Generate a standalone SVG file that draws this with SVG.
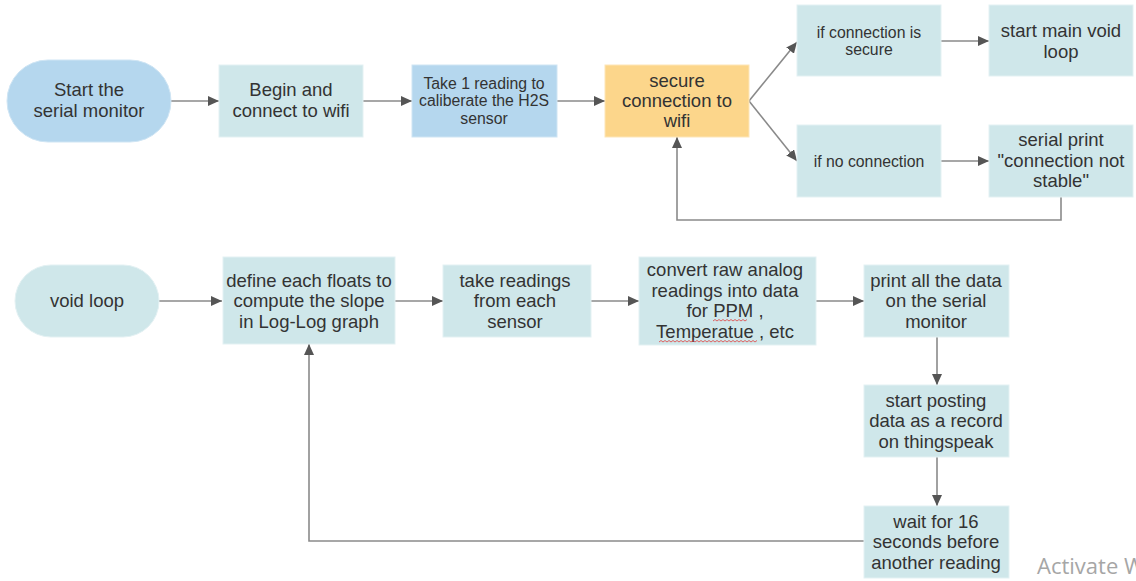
<svg xmlns="http://www.w3.org/2000/svg" width="1136" height="581" viewBox="0 0 1136 581">
<style>
.n{fill:#cfe7ea;stroke:#e3f1f3;stroke-width:1}
.b{fill:#b5d7ee;stroke:#cfe5f4;stroke-width:1}
.y{fill:#fcd68b;stroke:#fde6b8;stroke-width:1}
text{font-family:"Liberation Sans",Arial,sans-serif;fill:#333;text-anchor:middle}
.t17{font-size:18.5px}
.t14{font-size:15.8px}
.c{fill:none;stroke:#8a8a8a;stroke-width:1.6}
.sq{fill:none;stroke:#e04040;stroke-width:0.8}
</style>
<defs>
<marker id="ah" markerUnits="userSpaceOnUse" markerWidth="11" markerHeight="10" refX="11" refY="5" orient="auto">
<path d="M0,0 L11,5 L0,10 z" fill="#555"/>
</marker>
</defs>
<rect width="1136" height="581" fill="#fff"/>
<g id="connectors">
<path class="c" d="M171,101 H219" marker-end="url(#ah)"/>
<path class="c" d="M363,101 H412" marker-end="url(#ah)"/>
<path class="c" d="M557,101 H605" marker-end="url(#ah)"/>
<path class="c" d="M749,101 L797,42" marker-end="url(#ah)"/>
<path class="c" d="M749,101 L797,161" marker-end="url(#ah)"/>
<path class="c" d="M941,41 H989" marker-end="url(#ah)"/>
<path class="c" d="M941,161 H989" marker-end="url(#ah)"/>
<path class="c" d="M1061,197 V220 H677 V137" marker-end="url(#ah)"/>
<path class="c" d="M159,301 H222" marker-end="url(#ah)"/>
<path class="c" d="M395,301 H443" marker-end="url(#ah)"/>
<path class="c" d="M591,301 H639" marker-end="url(#ah)"/>
<path class="c" d="M816,301 H864" marker-end="url(#ah)"/>
<path class="c" d="M937,337 V385" marker-end="url(#ah)"/>
<path class="c" d="M937,457 V506" marker-end="url(#ah)"/>
<path class="c" d="M864,541 H309 V344" marker-end="url(#ah)"/>
</g>
<g id="start">
<rect class="b" x="7" y="60" width="164" height="82" rx="41"/>
<text class="t17" x="89" y="96">Start the</text>
<text class="t17" x="89" y="117">serial monitor</text>
</g>
<g id="begin">
<rect class="n" x="219" y="65" width="144" height="72"/>
<text class="t17" x="291" y="96">Begin and</text>
<text class="t17" x="291" y="117">connect to wifi</text>
</g>
<g id="calibrate">
<rect class="b" x="412" y="65" width="145" height="72"/>
<text class="t14" x="484" y="89">Take 1 reading to</text>
<text class="t14" x="484" y="106">caliberate the H2S</text>
<text class="t14" x="484" y="124">sensor</text>
</g>
<g id="secure">
<rect class="y" x="605" y="65" width="144" height="72"/>
<text class="t17" x="677" y="87">secure</text>
<text class="t17" x="677" y="107">connection to</text>
<text class="t17" x="677" y="127">wifi</text>
</g>
<g id="if-secure">
<rect class="n" x="797" y="5" width="144" height="71"/>
<text class="t14" x="869" y="38">if connection is</text>
<text class="t14" x="869" y="55">secure</text>
</g>
<g id="main-loop">
<rect class="n" x="989" y="5" width="144" height="71"/>
<text class="t17" x="1061" y="37">start main void</text>
<text class="t17" x="1061" y="58">loop</text>
</g>
<g id="no-connection">
<rect class="n" x="797" y="125" width="144" height="72"/>
<text class="t14" x="869" y="167">if no connection</text>
</g>
<g id="serial-print">
<rect class="n" x="989" y="125" width="144" height="72"/>
<text class="t17" x="1061" y="146">serial print</text>
<text class="t17" x="1061" y="167">"connection not</text>
<text class="t17" x="1061" y="187">stable"</text>
</g>
<g id="void-loop">
<rect class="n" x="15" y="265" width="144" height="72" rx="36"/>
<text class="t17" x="87" y="307">void loop</text>
</g>
<g id="define">
<rect class="n" x="223" y="257" width="172" height="87"/>
<text class="t17" x="309" y="287">define each floats to</text>
<text class="t17" x="309" y="307">compute the slope</text>
<text class="t17" x="309" y="328">in Log-Log graph</text>
</g>
<g id="take-readings">
<rect class="n" x="443" y="265" width="148" height="72"/>
<text class="t17" x="515" y="287">take readings</text>
<text class="t17" x="515" y="307">from each</text>
<text class="t17" x="515" y="328">sensor</text>
</g>
<g id="convert">
<rect class="n" x="639" y="257" width="177" height="88"/>
<text class="t17" x="725" y="276">convert raw analog</text>
<text class="t17" x="725" y="297">readings into data</text>
<text class="t17" x="725" y="317">for PPM ,</text>
<text class="t17" x="725" y="338">Temperatue , etc</text>
<path class="sq" d="M713,321 l2,-1.5 l2,1.5 l2,-1.5 l2,1.5 l2,-1.5 l2,1.5 l2,-1.5 l2,1.5 l2,-1.5 l2,1.5 l2,-1.5 l2,1.5 l2,-1.5 l2,1.5 l2,-1.5 l2,1.5 l2,-1.5"/>
<path class="sq" d="M659,342 l2,-1.5 l2,1.5 l2,-1.5 l2,1.5 l2,-1.5 l2,1.5 l2,-1.5 l2,1.5 l2,-1.5 l2,1.5 l2,-1.5 l2,1.5 l2,-1.5 l2,1.5 l2,-1.5 l2,1.5 l2,-1.5 l2,1.5 l2,-1.5 l2,1.5 l2,-1.5 l2,1.5 l2,-1.5 l2,1.5 l2,-1.5 l2,1.5 l2,-1.5 l2,1.5 l2,-1.5 l2,1.5 l2,-1.5 l2,1.5 l2,-1.5 l2,1.5 l2,-1.5 l2,1.5 l2,-1.5 l2,1.5 l2,-1.5 l2,1.5 l2,-1.5 l2,1.5 l2,-1.5 l2,1.5 l2,-1.5 l2,1.5 l2,-1.5 l2,1.5 l2,-1.5"/>
</g>
<g id="print-all">
<rect class="n" x="864" y="265" width="145" height="72"/>
<text class="t17" x="936" y="287">print all the data</text>
<text class="t17" x="936" y="307">on the serial</text>
<text class="t17" x="936" y="328">monitor</text>
</g>
<g id="posting">
<rect class="n" x="864" y="385" width="145" height="72"/>
<text class="t17" x="936" y="407">start posting</text>
<text class="t17" x="936" y="427">data as a record</text>
<text class="t17" x="936" y="448">on thingspeak</text>
</g>
<g id="wait">
<rect class="n" x="864" y="506" width="145" height="72"/>
<text class="t17" x="936" y="528">wait for 16</text>
<text class="t17" x="936" y="548">seconds before</text>
<text class="t17" x="936" y="569">another reading</text>
</g>
<text x="1037" y="574" style="font-family:'Open Sans','Noto Sans',sans-serif;font-size:22px;fill:#a6a6a6;text-anchor:start">Activate W</text>
</svg>
